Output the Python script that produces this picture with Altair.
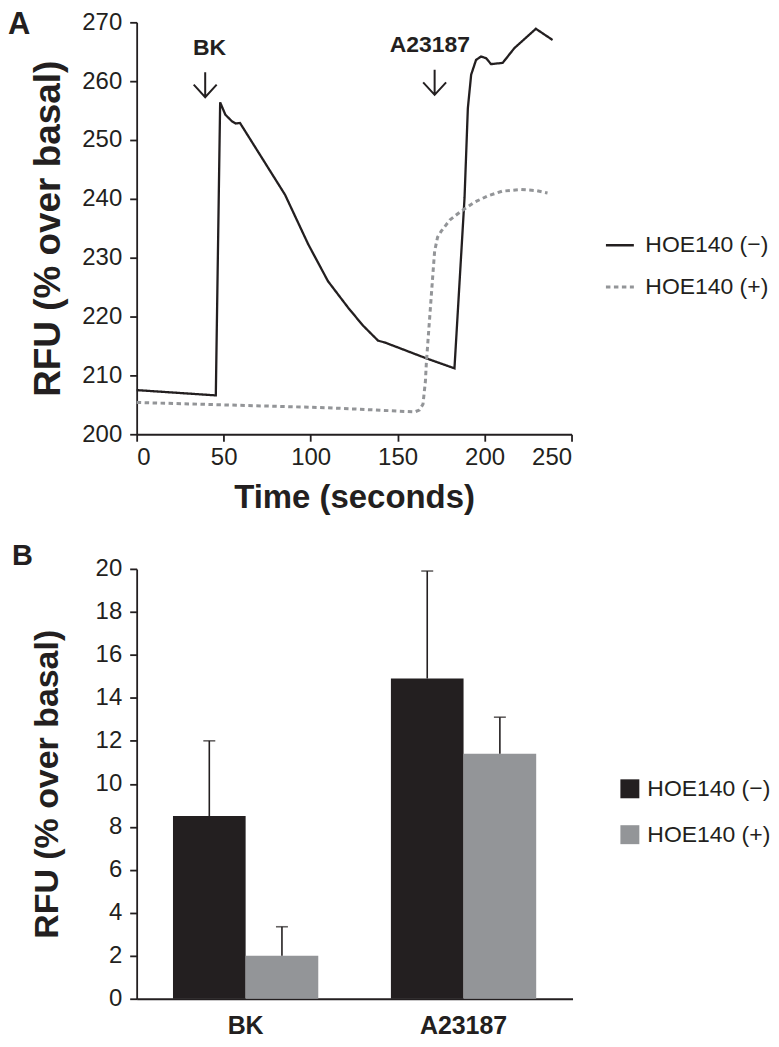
import altair as alt
import pandas as pd

FONT = "Liberation Sans"
INK = "#231f20"
GROUPS = ["HOE140 (−)", "HOE140 (+)"]
COLORS = ["#231f20", "#939598"]

# ---------- Panel A: time course ----------
T_MINUS = [0, 45.5, 48, 51, 54.7, 57, 59.4, 85.3, 98.6, 110, 121.6, 130, 138.8, 142.6,
           167.4, 178.9, 182.7, 188.5, 190.4, 192.3, 195.1, 198, 200.9, 203.7, 210.4,
           217.1, 229.5, 239.1]
RFU_MINUS = [207.5, 206.6, 256.4, 254.3, 253.2, 252.8, 252.9, 240.7, 232.3, 226.0, 221.5,
             218.5, 215.9, 215.6, 212.8, 211.6, 211.2, 240.2, 255.4, 261.1, 263.6, 264.2,
             263.9, 262.9, 263.1, 265.6, 268.9, 267.0]
T_PLUS = [0, 110, 159.8, 162.5, 164.6, 166, 166.5, 167.5, 168.5, 169.3, 170.5, 171.3, 173,
          175.1, 180, 186.5, 194, 201.8, 210, 220.9, 230, 236.2]
RFU_PLUS = [205.4, 204.5, 203.8, 204.1, 205.1, 209, 211.9, 216, 220, 223.2, 228, 231.1,
            233.5, 234.5, 236.4, 237.9, 239.4, 240.5, 241.3, 241.6, 241.4, 241.0]

X_TICKS = [0, 50, 100, 150, 200, 250]
Y_TICKS_A = [200, 210, 220, 230, 240, 250, 260, 270]

ANNOT_LABELS = ["BK", "A23187"]
LABEL_T = [41.9, 168.6]
LABEL_RFU = [265.6, 266.1]
ARROW_T = [39.4, 171.3]
ARROW_RFU = [259.4, 259.8]

# ---------- Panel B: bars ----------
STIMULI = ["BK", "A23187"]
MEAN_MINUS = [8.5, 14.9]
MEAN_PLUS = [2.0, 11.4]
SEM_MINUS = [3.5, 5.0]
SEM_PLUS = [1.35, 1.7]
Y_TICKS_B = [0, 2, 4, 6, 8, 10, 12, 14, 16, 18, 20]

line_df = pd.DataFrame({
    "t": T_MINUS + T_PLUS,
    "rfu": RFU_MINUS + RFU_PLUS,
    "g": [GROUPS[0]] * len(T_MINUS) + [GROUPS[1]] * len(T_PLUS),
})
annot_df = pd.DataFrame({"label": ANNOT_LABELS, "t": LABEL_T, "rfu": LABEL_RFU})
arrow_df = pd.DataFrame({"t": ARROW_T, "rfu": ARROW_RFU})

bar_df = pd.DataFrame({
    "stim": STIMULI * 2,
    "g": [GROUPS[0]] * 2 + [GROUPS[1]] * 2,
    "mean": MEAN_MINUS + MEAN_PLUS,
    "sem": SEM_MINUS + SEM_PLUS,
})

axis_common = dict(grid=False, domainColor=INK, tickColor=INK, labelColor=INK,
                   titleColor=INK, domainWidth=1.8, tickWidth=1.8, tickSize=7,
                   labelFont=FONT, titleFont=FONT, labelFontSize=24)

line_legend = alt.Legend(title=None, orient="none", legendX=469, legendY=208,
                         symbolType="stroke", symbolSize=784, labelFontSize=23,
                         labelFont=FONT, labelColor=INK, labelOffset=10,
                         rowPadding=14, padding=0)

x_a = alt.X("t:Q", scale=alt.Scale(domain=[0, 250], nice=False),
            axis=alt.Axis(values=X_TICKS, title="Time (seconds)", titleFontSize=33,
                          titleFontWeight="bold", labelPadding=4, titlePadding=12,
                          **axis_common))
y_a = alt.Y("rfu:Q", scale=alt.Scale(domain=[200, 270], nice=False, zero=False),
            axis=alt.Axis(values=Y_TICKS_A, title="RFU (% over basal)", titleFontSize=37,
                          titleFontWeight="bold", labelPadding=8, titlePadding=14,
                          **axis_common))

lines = alt.Chart(line_df).mark_line(strokeCap="butt").encode(
    x=x_a, y=y_a,
    color=alt.Color("g:N", scale=alt.Scale(domain=GROUPS, range=COLORS), legend=line_legend),
    strokeDash=alt.StrokeDash("g:N", scale=alt.Scale(domain=GROUPS, range=[[1, 0], [4.5, 3.5]]),
                              legend=line_legend),
    strokeWidth=alt.StrokeWidth("g:N", scale=alt.Scale(domain=GROUPS, range=[2.3, 3]),
                                legend=line_legend),
)

arrows = alt.Chart(arrow_df).mark_point(
    shape="M0,-1L0,1M-0.92,0L0,1L0.92,0", size=625, filled=False,
    color=INK, strokeWidth=2, opacity=1
).encode(x="t:Q", y="rfu:Q")

annots = alt.Chart(annot_df).mark_text(
    font=FONT, fontSize=23, fontWeight="bold", color=INK, baseline="middle", align="center"
).encode(x="t:Q", y="rfu:Q", text="label:N")

letter_a = alt.Chart(pd.DataFrame({"letter": ["A"]})).mark_text(
    font=FONT, fontSize=31, fontWeight="bold", color=INK, align="left", baseline="top"
).encode(x=alt.value(-129), y=alt.value(-12), text="letter:N")

panel_a = alt.layer(lines, arrows, annots, letter_a).properties(width=436, height=413)

# ---------- Panel B ----------
bar_legend = alt.Legend(title=None, orient="none", legendX=483, legendY=209,
                        symbolType="square", symbolSize=361, symbolStrokeWidth=0,
                        labelFontSize=23, labelFont=FONT, labelColor=INK,
                        labelOffset=6, rowPadding=22, padding=0)

base_b = alt.Chart(bar_df).transform_calculate(upper="datum.mean + datum.sem").encode(
    x=alt.X("stim:N", sort=STIMULI, scale=alt.Scale(paddingInner=0, paddingOuter=0),
            axis=alt.Axis(title=None, ticks=False, labelAngle=0, labelFontWeight="bold",
                          labelFontSize=25, labelPadding=15, grid=False, domainColor=INK,
                          domainWidth=1.8, labelColor=INK, labelFont=FONT)),
    xOffset=alt.XOffset("g:N", sort=GROUPS, scale=alt.Scale(paddingInner=0, paddingOuter=0.5)),
)

y_b = alt.Y("mean:Q", scale=alt.Scale(domain=[0, 20], nice=False),
            axis=alt.Axis(values=Y_TICKS_B, title="RFU (% over basal)", titleFontSize=34,
                          titleFontWeight="bold", labelPadding=8, titlePadding=31,
                          **axis_common))

bars = base_b.mark_bar().encode(
    y=y_b,
    color=alt.Color("g:N", scale=alt.Scale(domain=GROUPS, range=COLORS), legend=bar_legend),
)
err = base_b.mark_rule(color=INK, strokeWidth=1.6).encode(y="mean:Q", y2="upper:Q")
caps = base_b.mark_tick(color=INK, thickness=1.6, size=12, orient="horizontal").encode(y="upper:Q")

letter_b = alt.Chart(pd.DataFrame({"letter": ["B"]})).mark_text(
    font=FONT, fontSize=29, fontWeight="bold", color=INK, align="left", baseline="alphabetic"
).encode(x=alt.value(-125), y=alt.value(-4), text="letter:N")

panel_b = alt.layer(bars, err, caps, letter_b).properties(width=437, height=431)

chart = alt.vconcat(panel_a, panel_b, spacing=28).resolve_scale(
    color="independent", strokeDash="independent", strokeWidth="independent"
).resolve_legend(color="independent").properties(padding=0).configure_view(strokeWidth=0)

chart.save("out.html", embed_options={"renderer": "svg", "actions": False})
